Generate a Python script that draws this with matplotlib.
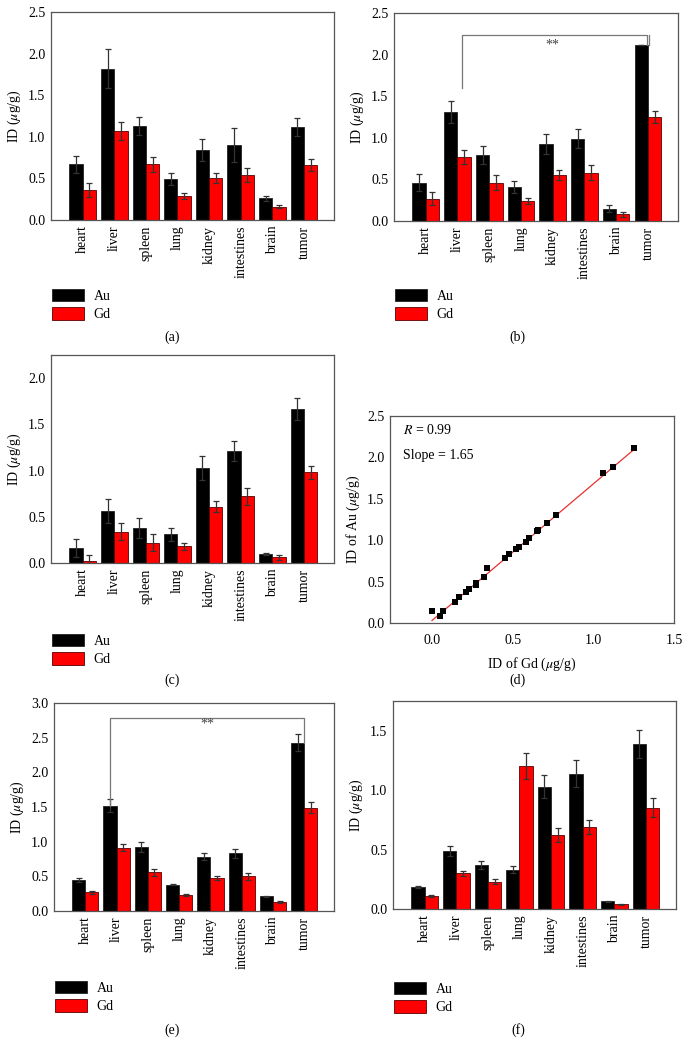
import numpy as np
import matplotlib
matplotlib.use("Agg")
import matplotlib.pyplot as plt

plt.rcParams['font.family'] = ['Liberation Serif', 'DejaVu Serif']
plt.rcParams['mathtext.fontset'] = 'stix'

organs = ["heart", "liver", "spleen", "lung", "kidney", "intestines", "brain", "tumor"]

# panel (a)
a_au = [0.67, 1.82, 1.13, 0.49, 0.84, 0.90, 0.26, 1.12]
a_au_err = [0.10, 0.23, 0.11, 0.07, 0.13, 0.20, 0.03, 0.11]
a_gd = [0.36, 1.07, 0.67, 0.29, 0.50, 0.54, 0.16, 0.66]
a_gd_err = [0.08, 0.11, 0.09, 0.04, 0.06, 0.08, 0.02, 0.07]

# panel (b)
b_au = [0.46, 1.31, 0.79, 0.41, 0.93, 0.99, 0.15, 2.12]
b_au_err = [0.10, 0.13, 0.11, 0.07, 0.12, 0.11, 0.04, 0.0]
b_gd = [0.27, 0.77, 0.46, 0.24, 0.55, 0.58, 0.08, 1.25]
b_gd_err = [0.08, 0.08, 0.09, 0.04, 0.06, 0.09, 0.03, 0.07]

# panel (c)
c_au = [0.16, 0.56, 0.38, 0.31, 1.03, 1.21, 0.10, 1.67]
c_au_err = [0.10, 0.13, 0.11, 0.07, 0.13, 0.11, 0.01, 0.12]
c_gd = [0.02, 0.34, 0.22, 0.18, 0.61, 0.72, 0.06, 0.98]
c_gd_err = [0.07, 0.09, 0.09, 0.04, 0.06, 0.09, 0.03, 0.07]

# panel (d) scatter
d_gd = [0.00, 0.05, 0.07, 0.14, 0.17, 0.21, 0.23, 0.27, 0.27, 0.32, 0.34, 0.45,
        0.48, 0.52, 0.54, 0.58, 0.60, 0.65, 0.66, 0.71, 0.77, 1.06, 1.12, 1.25]
d_au = [0.15, 0.09, 0.14, 0.25, 0.31, 0.37, 0.41, 0.46, 0.48, 0.55, 0.66, 0.78,
        0.83, 0.89, 0.92, 0.98, 1.03, 1.11, 1.12, 1.21, 1.31, 1.81, 1.88, 2.11]
d_slope = 1.65
d_intercept = 0.03
d_fit_x = [0.0, 1.25]

# panel (e)
e_au = [0.45, 1.52, 0.92, 0.38, 0.78, 0.83, 0.21, 2.43]
e_au_err = [0.03, 0.09, 0.07, 0.01, 0.05, 0.07, 0.01, 0.12]
e_gd = [0.27, 0.91, 0.56, 0.23, 0.47, 0.50, 0.13, 1.49]
e_gd_err = [0.02, 0.05, 0.05, 0.02, 0.03, 0.05, 0.01, 0.08]

# panel (f)
f_au = [0.186, 0.49, 0.37, 0.33, 1.03, 1.14, 0.065, 1.39]
f_au_err = [0.01, 0.04, 0.03, 0.03, 0.10, 0.11, 0.005, 0.12]
f_gd = [0.11, 0.30, 0.23, 1.20, 0.62, 0.69, 0.04, 0.85]
f_gd_err = [0.01, 0.02, 0.02, 0.11, 0.06, 0.06, 0.005, 0.08]

W, H = 689, 1054
fig = plt.figure(figsize=(W / 100, H / 100), dpi=100)

SPINE = '#555555'
FS = 10


def make_axes(l, r, t, b):
    return fig.add_axes([l / W, 1 - b / H, (r - l) / W, (b - t) / H])


def style(ax):
    for s in ax.spines.values():
        s.set_color(SPINE)
        s.set_linewidth(0.9)
    ax.tick_params(length=0, labelsize=FS, pad=4)


def bar_panel(box, au, au_err, gd, gd_err, ylim, yticks, leg_y, cap, cap_xy):
    ax = make_axes(*box)
    x = np.arange(len(organs))
    w = 0.42
    ax.bar(x - w / 2, au, w, color='black', edgecolor='#222222', linewidth=0.6,
           yerr=au_err, error_kw=dict(ecolor='#333333', elinewidth=0.9, capsize=2.5, capthick=0.9),
           label='Au', zorder=2)
    ax.bar(x + w / 2, gd, w, color='#ff0000', edgecolor='#5a0000', linewidth=0.6,
           yerr=gd_err, error_kw=dict(ecolor='#333333', elinewidth=0.9, capsize=2.5, capthick=0.9),
           label='Gd', zorder=2)
    ax.set_xlim(-1.0, 7.95)
    ax.set_ylim(*ylim)
    ax.set_yticks(yticks)
    ax.set_yticklabels([f"{v:.1f}" for v in yticks])
    ax.set_xticks(x)
    ax.set_xticklabels(organs, rotation=90)
    ax.set_ylabel(r'ID ($\mu$g/g)', fontsize=FS, labelpad=4)
    style(ax)
    l, r, t, b = box
    ax.legend(loc='upper left', bbox_to_anchor=((l + 1) / W, 1 - leg_y / H),
              bbox_transform=fig.transFigure, frameon=False, fontsize=FS,
              handlelength=2.3, handleheight=1.0, handletextpad=0.7,
              labelspacing=0.3, borderaxespad=0, borderpad=0)
    fig.text(cap_xy[0] / W, 1 - cap_xy[1] / H, cap, ha='center', va='center', fontsize=FS)
    return ax


def bracket(ax, x1, y1, x2, y2, ytop, star_x, star_y, double_right=False):
    col = '#777777'
    ax.plot([x1, x1, x2, x2], [y1, ytop, ytop, y2], color=col, lw=0.9, zorder=3)
    if double_right:
        ax.plot([x2 + 0.07, x2 + 0.07], [ytop, y2], color=col, lw=0.9, zorder=3)
    ax.text(star_x, star_y, '**', ha='center', va='center', fontsize=FS, color='#444444')


ax_a = bar_panel((51, 334, 12, 220), a_au, a_au_err, a_gd, a_gd_err, (0, 2.5),
                 [0, 0.5, 1.0, 1.5, 2.0, 2.5], 289, '(a)', (172, 337))
ax_b = bar_panel((394, 678, 13, 221), b_au, b_au_err, b_gd, b_gd_err, (0, 2.5),
                 [0, 0.5, 1.0, 1.5, 2.0, 2.5], 289, '(b)', (517, 337))
bracket(ax_b, 1.15, 1.60, 6.98, 2.12, 2.24, 4.0, 2.12, double_right=True)
ax_c = bar_panel((51, 334, 355, 563), c_au, c_au_err, c_gd, c_gd_err, (0, 2.25),
                 [0, 0.5, 1.0, 1.5, 2.0], 634, '(c)', (172, 680))
ax_e = bar_panel((54, 334, 703, 911), e_au, e_au_err, e_gd, e_gd_err, (0, 3.0),
                 [0, 0.5, 1.0, 1.5, 2.0, 2.5, 3.0], 981, '(e)', (172, 1030))
bracket(ax_e, 0.8, 1.52, 7.0, 2.43, 2.79, 3.9, 2.69)
ax_f = bar_panel((393, 676, 701, 909), f_au, f_au_err, f_gd, f_gd_err, (0, 1.75),
                 [0, 0.5, 1.0, 1.5], 982, '(f)', (518, 1030))

# panel (d)
ax_d = make_axes(390, 674, 416, 623)
ax_d.scatter(d_gd, d_au, marker='s', s=20, color='black', zorder=3, linewidths=0)
fx = np.array(d_fit_x)
ax_d.plot(fx, d_slope * fx + d_intercept, color='#e83030', lw=0.9, zorder=2)
ax_d.set_xlim(-0.26, 1.5)
ax_d.set_ylim(0, 2.5)
ax_d.set_xticks([0, 0.5, 1.0, 1.5])
ax_d.set_xticklabels(['0.0', '0.5', '1.0', '1.5'])
ax_d.set_yticks([0, 0.5, 1.0, 1.5, 2.0, 2.5])
ax_d.set_yticklabels(['0.0', '0.5', '1.0', '1.5', '2.0', '2.5'])
ax_d.set_xlabel(r'ID of Gd ($\mu$g/g)', fontsize=FS, labelpad=6)
ax_d.set_ylabel(r'ID of Au ($\mu$g/g)', fontsize=FS, labelpad=4)
style(ax_d)
ax_d.tick_params(axis='x', pad=8)
ax_d.text(0.045, 0.93, r'$R$ = 0.99', transform=ax_d.transAxes, fontsize=FS, va='center')
ax_d.text(0.045, 0.81, 'Slope = 1.65', transform=ax_d.transAxes, fontsize=FS, va='center')
fig.text(517 / W, 1 - 680 / H, '(d)', ha='center', va='center', fontsize=FS)

fig.savefig('out.png', dpi=100)
